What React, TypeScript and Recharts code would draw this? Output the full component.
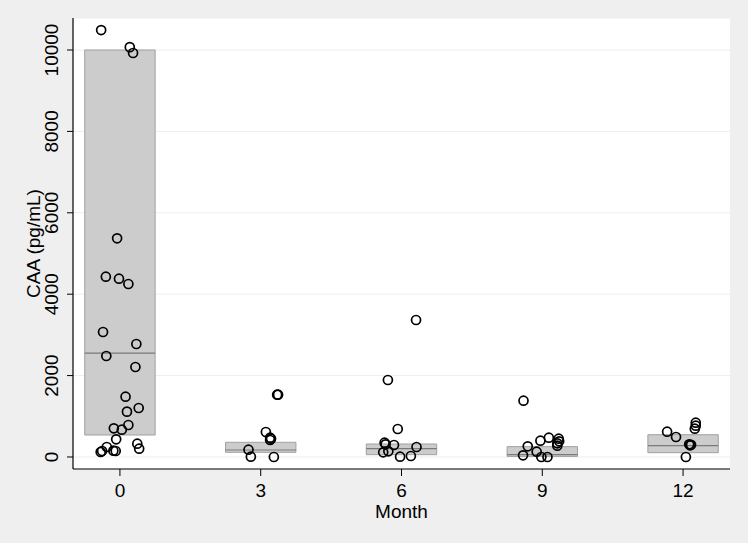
import React from 'react'
import {
  ComposedChart, Scatter, XAxis, YAxis, CartesianGrid, ReferenceArea, ReferenceLine,
} from 'recharts'

// box summaries per month
const months = [0, 3, 6, 9, 12]
const boxQ1 = [540, 115, 57, 15, 106]
const boxMedian = [2550, 172, 204, 57, 278]
const boxQ3 = [10000, 361, 319, 254, 548]
const boxHalfWidth = 0.75

// jittered observations [month, CAA]
const month0 = [
  [-0.40, 10490], [0.21, 10070], [0.28, 9926], [-0.06, 5373], [-0.30, 4430],
  [-0.02, 4381], [0.18, 4250], [-0.36, 3071], [0.35, 2776], [-0.29, 2481],
  [0.33, 2211], [0.12, 1482], [0.40, 1204], [0.15, 1114], [0.18, 786],
  [-0.13, 705], [0.04, 671], [-0.08, 435], [0.37, 327], [0.41, 204],
  [-0.28, 246], [-0.38, 147], [-0.41, 123], [-0.14, 155], [-0.09, 147],
]
const month3 = [
  [3.35, 1531], [3.37, 1531], [3.11, 614], [3.20, 474], [3.20, 418],
  [3.22, 450], [2.74, 180], [2.79, 8], [3.28, 0],
]
const month6 = [
  [5.71, 1892], [6.31, 3366], [5.92, 688], [5.64, 351], [5.66, 311],
  [5.84, 295], [6.32, 246], [5.61, 115], [5.72, 139], [5.97, 8], [6.20, 25],
]
const month9 = [
  [8.60, 1384], [9.14, 474], [8.96, 401], [9.35, 450], [9.36, 385],
  [9.32, 336], [9.32, 278], [8.69, 262], [8.88, 131], [8.59, 41],
  [8.98, 0], [9.11, 0],
]
const month12 = [
  [12.27, 843], [12.27, 769], [12.25, 696], [11.66, 622], [11.85, 491],
  [12.13, 311], [12.15, 287], [12.17, 300], [12.06, 0],
]

const yTicks = [0, 2000, 4000, 6000, 8000, 10000]
const groups = [month0, month3, month6, month9, month12]

const FONT = '"Liberation Sans", Arial, sans-serif'

const toPoints = (arr: number[][]) => arr.map(([x, y]) => ({ x, y }))

const Ring = (props: any) => (
  <circle cx={props.cx} cy={props.cy} r={4.5} fill="none" stroke="#000" strokeWidth={1.7} />
)

const YTick = (props: any) => {
  const { y, payload } = props
  const bx = 58
  return (
    <text x={bx} y={y} transform={`rotate(-90 ${bx} ${y})`} textAnchor="middle"
      fontSize={19} fontFamily={FONT} fill="#000">
      {payload.value}
    </text>
  )
}

const XTick = (props: any) => {
  const { x, y, payload } = props
  return (
    <text x={x} y={y + 19} textAnchor="middle" fontSize={19} fontFamily={FONT} fill="#000">
      {payload.value}
    </text>
  )
}

export default function App() {
  return (
    <div style={{ position: 'absolute', left: 0, top: 0, width: 748, height: 543, background: '#efefef' }}>
      <ComposedChart width={748} height={543} margin={{ top: 18, right: 18, bottom: 0, left: 0 }}>
        <CartesianGrid vertical={false} fill="#ffffff" stroke="#ebefef" strokeWidth={1} />
        <XAxis
          type="number"
          dataKey="x"
          domain={[-1, 13]}
          ticks={months}
          allowDataOverflow
          height={74}
          tickSize={7}
          tick={<XTick />}
          axisLine={{ stroke: '#000', strokeWidth: 1.2 }}
          tickLine={{ stroke: '#000' }}
          label={(p: any) => {
            const vb = p.viewBox
            return (
              <text x={vb.x + vb.width / 2} y={vb.y + 49} textAnchor="middle"
                fontSize={19} fontFamily={FONT} fill="#000">Month</text>
            )
          }}
        />
        <YAxis
          type="number"
          dataKey="y"
          domain={[-295, 10786]}
          ticks={yTicks}
          allowDataOverflow
          width={73}
          tickSize={6}
          tick={<YTick />}
          axisLine={{ stroke: '#000', strokeWidth: 1.2 }}
          tickLine={{ stroke: '#000' }}
          label={(p: any) => {
            const vb = p.viewBox
            const cy = vb.y + vb.height / 2
            return (
              <text x={40} y={cy} transform={`rotate(-90 40 ${cy})`} textAnchor="middle"
                fontSize={19} fontFamily={FONT} fill="#000">CAA (pg/mL)</text>
            )
          }}
        />
        {months.map((m, i) => (
          <ReferenceArea key={`box-${m}`} x1={m - boxHalfWidth} x2={m + boxHalfWidth}
            y1={boxQ1[i]} y2={boxQ3[i]} fill="#cccccc" fillOpacity={1} stroke="#a0a0a0" strokeWidth={1} />
        ))}
        {months.map((m, i) => (
          <ReferenceLine key={`med-${m}`} segment={[{ x: m - boxHalfWidth, y: boxMedian[i] }, { x: m + boxHalfWidth, y: boxMedian[i] }]}
            stroke="#7a7a7a" strokeWidth={1.2} />
        ))}
        {groups.map((g, i) => (
          <Scatter key={`pts-${i}`} data={toPoints(g)} shape={<Ring />} isAnimationActive={false} />
        ))}
      </ComposedChart>
    </div>
  )
}
